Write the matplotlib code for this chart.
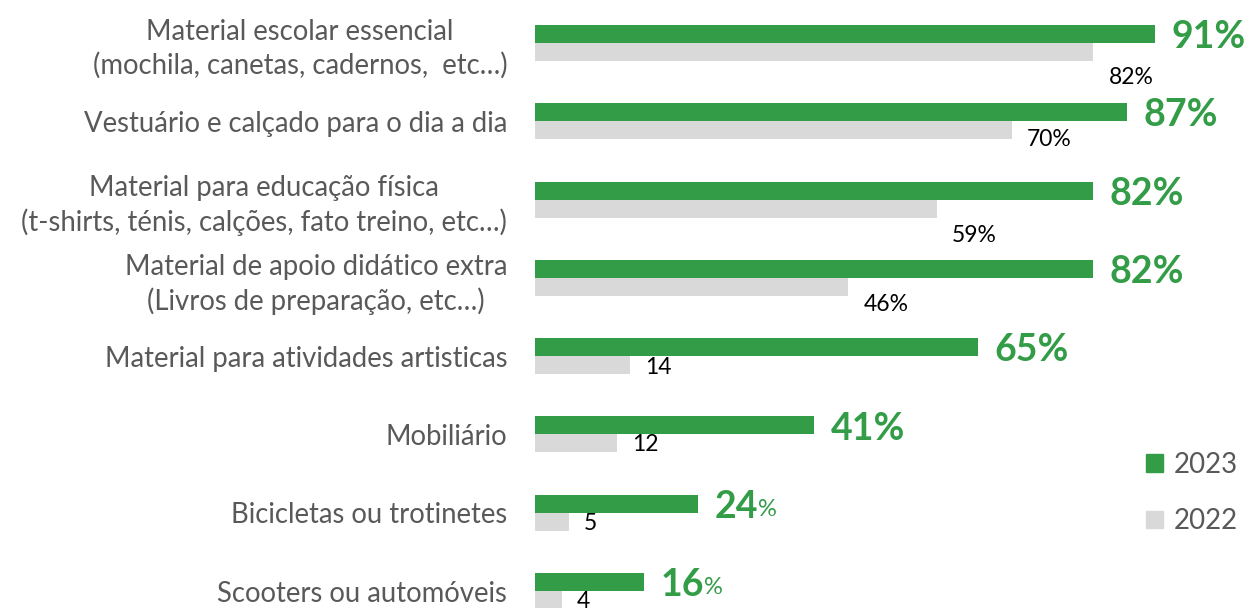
import matplotlib.pyplot as plt
from matplotlib.patches import Patch

categories = [
    "Material escolar essencial\n(mochila, canetas, cadernos,  etc…)",
    "Vestuário e calçado para o dia a dia",
    "Material para educação física\n(t-shirts, ténis, calções, fato treino, etc…)",
    "Material de apoio didático extra\n(Livros de preparação, etc…)",
    "Material para atividades artisticas",
    "Mobiliário",
    "Bicicletas ou trotinetes",
    "Scooters ou automóveis",
]
values_2023 = [91, 87, 82, 82, 65, 41, 24, 16]
values_2022 = [82, 70, 59, 46, 14, 12, 5, 4]
labels_2022 = ["82%", "70%", "59%", "46%", "14", "12", "5", "4"]
small_pct = [False, False, False, False, False, False, True, True]

GREEN = "#339c47"
GREY = "#d9d9d9"
TEXT = "#595959"
FONT = "Lato"

# manual nudges of the 2022 labels (data units, downwards)
gray_dy = [0.33, 0.115, 0.345, 0.22, 0.025, 0.013, 0.025, 0.025]

fig = plt.figure(figsize=(12.48, 6.08), dpi=100)
ax = fig.add_axes([535 / 1248, 0, 681 / 1248, 1])

y = list(range(len(categories)))
h = 0.23
yg = [i - h / 2 for i in y]
yr = [i + h / 2 for i in y]

ax.barh(yg, values_2023, height=h, color=GREEN, label="2023")
ax.barh(yr, values_2022, height=h, color=GREY, label="2022")

ax.set_xlim(0, 100)
ax.set_ylim(7.217, -0.549)
for s in ax.spines.values():
    s.set_visible(False)
ax.set_xticks([])
ax.set_yticks(y)
ax.set_yticklabels(categories, fontsize=19.8, color=TEXT, family=FONT,
                   multialignment="center", linespacing=1.33)
ax.tick_params(axis="y", length=0, pad=20)

for i, v in enumerate(values_2023):
    txt = f"{v}" if small_pct[i] else f"{v}%"
    t = ax.text(v + 2.4, yg[i] + 0.04, txt, color=GREEN, fontsize=27,
                fontweight="bold", family=FONT, va="center", ha="left")
    if small_pct[i]:
        ax.annotate("%", xy=(1, 0.12), xycoords=t, color=GREEN, fontsize=17,
                    family=FONT, va="bottom", ha="left")

for i, v in enumerate(values_2022):
    ax.text(v + 2.2, yr[i] + gray_dy[i], labels_2022[i], color="black",
            fontsize=16.5, family=FONT, va="center", ha="left")

handles = [Patch(color=GREEN, label="2023"), Patch(color=GREY, label="2022")]
fig.legend(handles=handles, loc="center left",
           bbox_to_anchor=(1121 / 1248, 1 - 493 / 608), frameon=False,
           prop={"family": FONT, "size": 20}, labelcolor=TEXT,
           handlelength=0.6, handleheight=0.6, handletextpad=0.4,
           labelspacing=1.1)

fig.savefig("out.png", dpi=100)
